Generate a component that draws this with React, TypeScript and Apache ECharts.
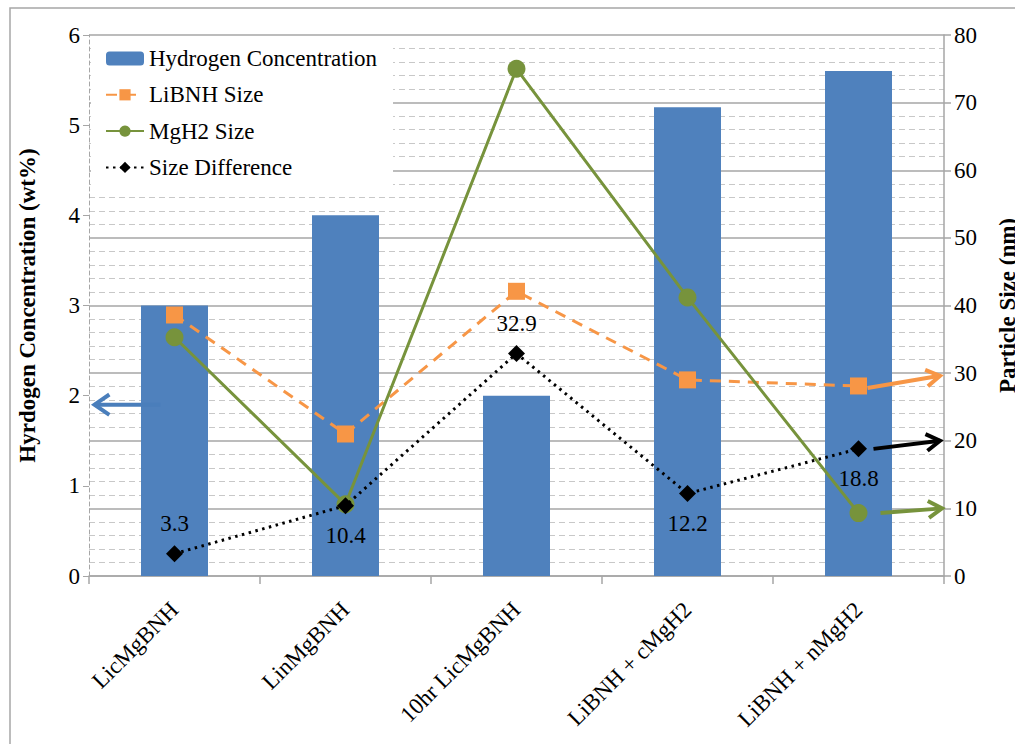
import React, { useEffect, useRef } from "react";
import * as echarts from "echarts";

const categories = ["LicMgBNH", "LinMgBNH", "10hr LicMgBNH", "LiBNH + cMgH2", "LiBNH + nMgH2"];
const hydrogenConcentration = [3.0, 4.0, 2.0, 5.2, 5.6];
const libnhSize = [38.6, 21.0, 42.1, 29.0, 28.1];
const mgh2Size = [35.3, 10.6, 75.0, 41.2, 9.3];
const sizeDifference = [3.3, 10.4, 32.9, 12.2, 18.8];
const leftTicks = [0, 1, 2, 3, 4, 5, 6];
const rightTicks = [0, 10, 20, 30, 40, 50, 60, 70, 80];

const FONT = "Liberation Serif";
const FS = 23;
const BLUE = "#4F81BD";
const ORANGE = "#F79646";
const GREEN = "#77933C";
const GRAY = "#A6A6A6";

function arrow(x1: number, y1: number, x2: number, y2: number, color: string, L = 15, a = 0.55, w = 4) {
  const ang = Math.atan2(y2 - y1, x2 - x1);
  const p1 = [x2 - L * Math.cos(ang - a), y2 - L * Math.sin(ang - a)];
  const p2 = [x2 - L * Math.cos(ang + a), y2 - L * Math.sin(ang + a)];
  return [
    { type: "line", z: 10, shape: { x1, y1, x2, y2 }, style: { stroke: color, lineWidth: w } },
    { type: "polyline", z: 10, shape: { points: [p1, [x2, y2], p2] }, style: { stroke: color, fill: null, lineWidth: w, lineJoin: "miter" } },
  ];
}

export default function App() {
  const ref = useRef<HTMLDivElement>(null);
  useEffect(() => {
    document.body.style.margin = "0";
    const chart = echarts.init(ref.current!, null, { renderer: "svg" });
    const diffSide = ["top", "bottom", "top", "bottom", "bottom"];
    const option: any = {
      animation: false,
      backgroundColor: "#fff",
      textStyle: { fontFamily: FONT },
      grid: { left: 89, right: 71, top: 35, bottom: 168, containLabel: false, outerBoundsMode: "none" },
      legend: {
        orient: "vertical",
        left: 91,
        top: 41,
        padding: [6, 16, 8, 14],
        backgroundColor: "#fff",
        itemWidth: 38,
        itemHeight: 14,
        itemGap: 13.3,
        textStyle: { fontFamily: FONT, fontSize: FS, color: "#000", lineHeight: 23 },
        z: 5,
        data: ["Hydrogen Concentration", "LiBNH Size", "MgH2 Size", "Size Difference"],
      },
      xAxis: {
        type: "category",
        data: categories,
        boundaryGap: true,
        axisLine: { lineStyle: { color: GRAY, width: 1.5 } },
        axisTick: { show: true, length: 8, lineStyle: { color: GRAY, width: 1.5 } },
        axisLabel: { rotate: 45, margin: 30, fontSize: FS, color: "#000", fontFamily: FONT },
      },
      yAxis: [
        {
          type: "value",
          min: 0,
          max: 6,
          interval: 1,
          position: "left",
          name: "Hyrdogen Concentration (wt%)",
          nameLocation: "middle",
          nameRotate: 90,
          nameGap: 50,
          nameTextStyle: { fontFamily: FONT, fontSize: FS, fontWeight: "bold", color: "#000" },
          axisLine: { show: true, lineStyle: { color: GRAY, width: 1, type: [4, 3] } },
          axisTick: { show: true, length: 6, lineStyle: { color: GRAY } },
          axisLabel: { fontSize: FS, color: "#000", margin: 9, fontFamily: FONT, formatter: (v: number) => (leftTicks.includes(v) ? String(v) : "") },
          splitLine: { show: false },
        },
        {
          type: "value",
          min: 0,
          max: 80,
          interval: 10,
          position: "right",
          name: "Particle Size (nm)",
          nameLocation: "middle",
          nameRotate: 90,
          nameGap: 52,
          nameTextStyle: { fontFamily: FONT, fontSize: FS, fontWeight: "bold", color: "#000" },
          axisLine: { show: true, lineStyle: { color: GRAY, width: 1.5 } },
          axisTick: { show: true, length: 7, lineStyle: { color: GRAY, width: 1.5 } },
          axisLabel: { fontSize: FS, color: "#000", margin: 10, fontFamily: FONT, formatter: (v: number) => (rightTicks.includes(v) ? String(v) : "") },
          splitLine: { show: true, lineStyle: { color: GRAY, width: 1.5 } },
          minorTick: { show: false, splitNumber: 5 },
          minorSplitLine: { show: true, lineStyle: { color: "#C8C8C8", width: 1, type: [6, 4] } },
        },
      ],
      series: [
        {
          name: "Hydrogen Concentration",
          type: "bar",
          yAxisIndex: 0,
          barWidth: 67,
          itemStyle: { color: BLUE },
          data: hydrogenConcentration,
          z: 1,
        },
        {
          name: "LiBNH Size",
          type: "line",
          yAxisIndex: 1,
          data: libnhSize,
          symbol: "rect",
          symbolSize: 17,
          itemStyle: { color: ORANGE },
          lineStyle: { color: ORANGE, width: 3, type: [11, 8] },
          z: 3,
        },
        {
          name: "MgH2 Size",
          type: "line",
          yAxisIndex: 1,
          data: mgh2Size,
          symbol: "circle",
          symbolSize: 18,
          itemStyle: { color: GREEN },
          lineStyle: { color: GREEN, width: 3 },
          z: 3,
        },
        {
          name: "Size Difference",
          type: "line",
          yAxisIndex: 1,
          data: sizeDifference.map((v, i) => ({ value: v, label: { position: diffSide[i] } })),
          symbol: "diamond",
          symbolSize: 17,
          itemStyle: { color: "#000" },
          lineStyle: { color: "#000", width: 3, type: [2.5, 4.5] },
          label: { show: true, fontSize: FS, color: "#000", fontFamily: FONT, distance: 10 },
          z: 4,
        },
      ],
    };
    chart.setOption(option);

    const px = (seriesIndex: number, xi: number, v: number) => chart.convertToPixel({ seriesIndex }, [xi, v]) as number[];
    const last = categories.length - 1;
    const rightEdge = px(1, last, 0)[0] + 85.5 - 4;
    const g: any[] = [
      { type: "rect", z: 20, silent: true, shape: { x: 10, y: 8, width: 1200, height: 900 }, style: { fill: null, stroke: GRAY, lineWidth: 1.5 } },
    ];
    const b = px(0, 0, 1.9);
    g.push(...arrow(b[0] - 14, b[1], px(0, 0, 0)[0] - 80, b[1], "#4A7EBB", 18, 0.6, 4));
    const o1 = px(1, last, libnhSize[last]);
    const o2 = px(1, last, 29.6);
    g.push(...arrow(o1[0] + 9, o1[1] + 2, rightEdge, o2[1], ORANGE, 16, 0.55, 4));
    const k1 = px(3, last, sizeDifference[last]);
    const k2 = px(3, last, 20);
    g.push(...arrow(k1[0] + 15, k1[1], rightEdge, k2[1], "#000", 16, 0.55, 4));
    const m1 = px(2, last, mgh2Size[last]);
    const m2 = px(2, last, 10);
    g.push(...arrow(m1[0] + 22, m1[1], rightEdge + 2, m2[1], GREEN, 16, 0.55, 4));
    chart.setOption({ graphic: g });

    return () => chart.dispose();
  }, []);
  return <div ref={ref} style={{ width: 1015, height: 744 }} />;
}
